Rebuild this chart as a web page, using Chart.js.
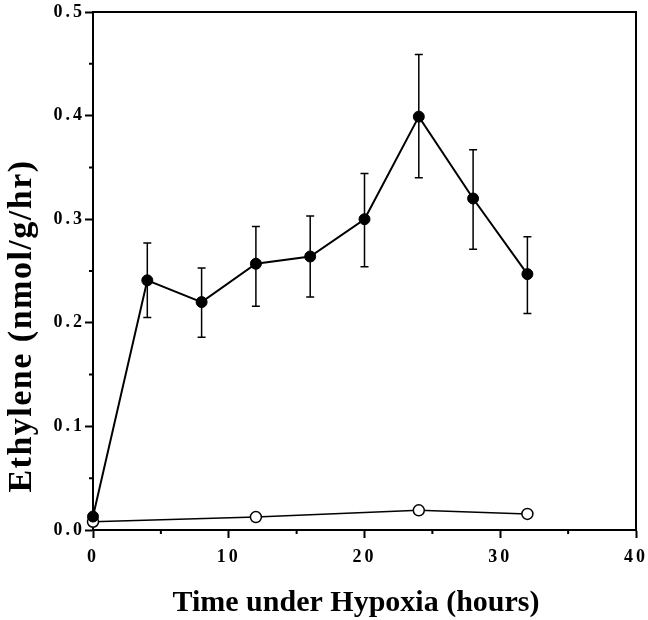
<!DOCTYPE html>
<html>
<head>
<meta charset="utf-8">
<script src="https://cdn.jsdelivr.net/npm/chart.js@4.4.1/dist/chart.umd.min.js"></script>
<style>
  html, body { margin: 0; padding: 0; background: #fff; }
  #wrap { width: 648px; height: 620px; }
</style>
</head>
<body>
<div id="wrap"><canvas id="chart" width="648" height="620"></canvas></div>
<script>
// hours under hypoxia
const hoursHypoxia = [0, 4, 8, 12, 16, 20, 24, 28, 32];
const ethyleneHypoxia = [0.013, 0.241, 0.220, 0.257, 0.264, 0.300, 0.399, 0.320, 0.247];
const errUpper = [0.013, 0.277, 0.253, 0.293, 0.303, 0.344, 0.459, 0.367, 0.283];
const errLower = [0.013, 0.205, 0.186, 0.216, 0.225, 0.254, 0.340, 0.271, 0.209];

const hoursControl = [0, 12, 24, 32];
const ethyleneControl = [0.008, 0.0125, 0.019, 0.0155];

const xMinor = [5, 15, 25, 35];
const yMinor = [0.05, 0.15, 0.25, 0.35, 0.45];
const xTitle = 'Time under Hypoxia (hours)';
const yTitle = 'Ethylene (nmol/g/hr)';

const serif = "'Liberation Serif', 'DejaVu Serif', serif";

// spaced-out tick digits like the original print
const spacing = {
  id: 'spacing',
  beforeDraw(chart) { chart.ctx.letterSpacing = '3px'; },
  afterDraw(chart) { chart.ctx.letterSpacing = '0px'; }
};

// error bars drawn through the y scale
const errorBars = {
  id: 'errorBars',
  afterDatasetsDraw(chart) {
    const { ctx, scales: { x, y } } = chart;
    ctx.save();
    ctx.strokeStyle = '#000';
    ctx.lineWidth = 1.5;
    hoursHypoxia.forEach((h, i) => {
      if (errUpper[i] === errLower[i]) return;
      const px = x.getPixelForValue(h);
      const top = y.getPixelForValue(errUpper[i]), bot = y.getPixelForValue(errLower[i]);
      ctx.beginPath();
      ctx.moveTo(px, top); ctx.lineTo(px, bot);
      ctx.moveTo(px - 4, top); ctx.lineTo(px + 4, top);
      ctx.moveTo(px - 4, bot); ctx.lineTo(px + 4, bot);
      ctx.stroke();
    });
    ctx.restore();
  }
};

// frame on top/right, minor ticks, axis titles
const frame = {
  id: 'frame',
  afterDraw(chart) {
    const { ctx, chartArea: a, scales: { x, y } } = chart;
    ctx.save();
    ctx.letterSpacing = '0px';
    ctx.strokeStyle = '#000';
    ctx.lineWidth = 2;
    ctx.beginPath();
    ctx.moveTo(a.left, a.top); ctx.lineTo(a.right, a.top); ctx.lineTo(a.right, a.bottom);
    xMinor.forEach(v => { const p = x.getPixelForValue(v); ctx.moveTo(p, a.bottom); ctx.lineTo(p, a.bottom + 4); });
    yMinor.forEach(v => { const p = y.getPixelForValue(v); ctx.moveTo(a.left, p); ctx.lineTo(a.left - 4, p); });
    ctx.stroke();

    ctx.fillStyle = '#000';
    ctx.font = 'bold 30px ' + serif;
    ctx.textAlign = 'center';
    ctx.textBaseline = 'middle';
    ctx.fillText(xTitle, 356, 603);
    ctx.font = 'bold 34px ' + serif;
    ctx.letterSpacing = '1.5px';
    ctx.translate(22, 326);
    ctx.rotate(-Math.PI / 2);
    ctx.fillText(yTitle, 0, 0);
    ctx.restore();
  }
};

new Chart(document.getElementById('chart'), {
  type: 'line',
  data: {
    datasets: [
      { label: 'Hypoxia', data: hoursHypoxia.map((h, i) => ({ x: h, y: ethyleneHypoxia[i] })),
        borderColor: '#000', borderWidth: 2, backgroundColor: '#000', clip: false,
        pointRadius: 5.5, pointBorderWidth: 1, pointBackgroundColor: '#000', pointBorderColor: '#000', tension: 0 },
      { label: 'Control', data: hoursControl.map((h, i) => ({ x: h, y: ethyleneControl[i] })),
        borderColor: '#000', borderWidth: 1.5, backgroundColor: '#fff', clip: false,
        pointRadius: 5.5, pointBorderWidth: 1.5, pointBackgroundColor: '#fff', pointBorderColor: '#000', tension: 0 }
    ]
  },
  options: {
    responsive: false,
    animation: false,
    events: [],
    layout: { padding: { top: 12, right: 12, left: 0, bottom: 0 } },
    plugins: { legend: { display: false }, tooltip: { enabled: false } },
    scales: {
      x: {
        type: 'linear', min: 0, max: 40,
        afterFit(s) { s.height = 90; s.paddingLeft = 0; s.paddingRight = 0; },
        border: { display: true, color: '#000', width: 2 },
        grid: { drawOnChartArea: false, drawTicks: true, tickLength: 8, tickColor: '#000', tickWidth: 2 },
        ticks: { stepSize: 10, color: '#000', padding: 9, maxRotation: 0, autoSkip: false,
          font: { family: serif, size: 18, weight: 'bold' } },
        title: { display: false }
      },
      y: {
        type: 'linear', min: 0, max: 0.5,
        afterFit(s) { s.width = 93; s.paddingTop = 0; s.paddingBottom = 0; },
        border: { display: true, color: '#000', width: 2 },
        grid: { drawOnChartArea: false, drawTicks: true, tickLength: 8, tickColor: '#000', tickWidth: 2 },
        ticks: { stepSize: 0.1, color: '#000', padding: 0, autoSkip: false,
          font: { family: serif, size: 18, weight: 'bold' },
          callback: v => v.toFixed(1) },
        title: { display: false }
      }
    }
  },
  plugins: [spacing, errorBars, frame]
});
</script>
</body>
</html>
